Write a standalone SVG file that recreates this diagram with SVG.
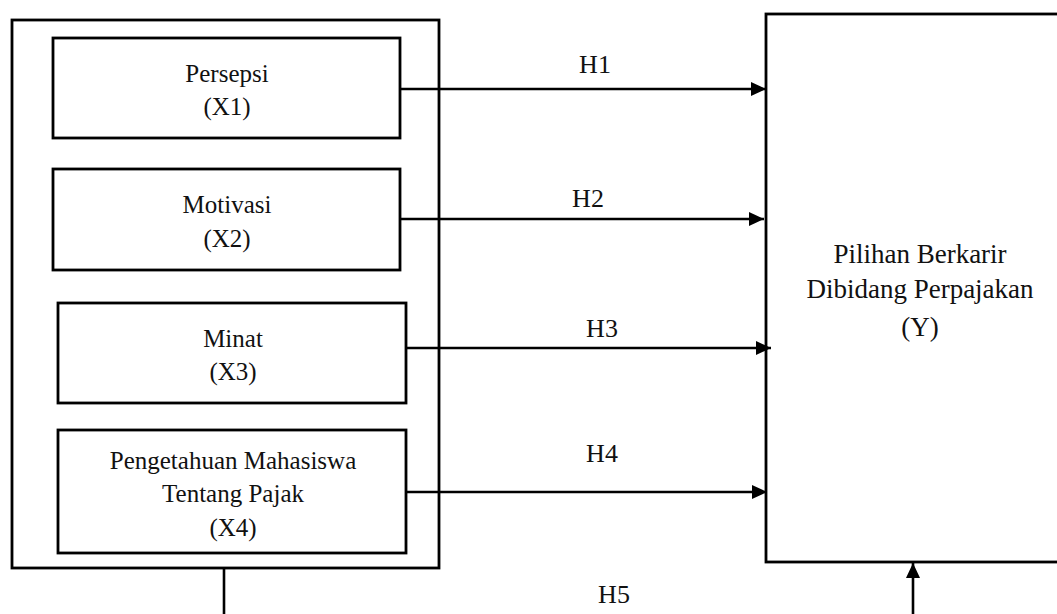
<svg xmlns="http://www.w3.org/2000/svg" width="1057" height="614" viewBox="0 0 1057 614">
<style>
.box{fill:#fff;stroke:#000;stroke-width:2.8}
.t{font-family:"Liberation Serif","Times New Roman",serif;font-size:25px;fill:#111;text-anchor:middle}
.ty{font-family:"Liberation Serif","Times New Roman",serif;font-size:27px;fill:#111;text-anchor:middle}
.h{font-family:"Liberation Serif","Times New Roman",serif;font-size:26px;fill:#111;text-anchor:middle}
.ln{stroke:#000;stroke-width:2.6;fill:none}
</style>
<defs>
<marker id="ah" viewBox="0 0 15 14" refX="15" refY="7" markerWidth="15" markerHeight="14" markerUnits="userSpaceOnUse" orient="auto">
<path d="M0,0 L15,7 L0,14 Z" fill="#000"/>
</marker>
</defs>
<rect x="0" y="0" width="1057" height="614" fill="#fff"/>
<g id="outer">
<rect class="box" x="12" y="20" width="427" height="548"/>
</g>
<g id="x1">
<rect class="box" x="53" y="38" width="347" height="100"/>
<text class="t" x="227" y="82">Persepsi</text>
<text class="t" x="227" y="115">(X1)</text>
</g>
<g id="x2">
<rect class="box" x="53" y="169" width="347" height="101"/>
<text class="t" x="227" y="213">Motivasi</text>
<text class="t" x="227" y="247">(X2)</text>
</g>
<g id="x3">
<rect class="box" x="58" y="303" width="348" height="100"/>
<text class="t" x="233" y="347">Minat</text>
<text class="t" x="233" y="380">(X3)</text>
</g>
<g id="x4">
<rect class="box" x="58" y="430" width="348" height="123"/>
<text class="t" x="233" y="469">Pengetahuan Mahasiswa</text>
<text class="t" x="233" y="502">Tentang Pajak</text>
<text class="t" x="233" y="536">(X4)</text>
</g>
<g id="y">
<rect class="box" x="766" y="14" width="320" height="548"/>
<text class="ty" x="920" y="263">Pilihan Berkarir</text>
<text class="ty" x="920" y="298">Dibidang Perpajakan</text>
<text class="ty" x="920" y="336">(Y)</text>
</g>
<g id="connectors">
<line class="ln" x1="400" y1="89" x2="766" y2="89" marker-end="url(#ah)"/>
<line class="ln" x1="400" y1="219" x2="764" y2="219" marker-end="url(#ah)"/>
<line class="ln" x1="406" y1="348" x2="771" y2="348" marker-end="url(#ah)"/>
<line class="ln" x1="406" y1="492" x2="767" y2="492" marker-end="url(#ah)"/>
<line class="ln" x1="224" y1="568" x2="224" y2="614"/>
<line class="ln" x1="913" y1="614" x2="913" y2="563" marker-end="url(#ah)"/>
<text class="h" x="595" y="73">H1</text>
<text class="h" x="588" y="207">H2</text>
<text class="h" x="602" y="337">H3</text>
<text class="h" x="602" y="462">H4</text>
<text class="h" x="614" y="603">H5</text>
</g>
</svg>
